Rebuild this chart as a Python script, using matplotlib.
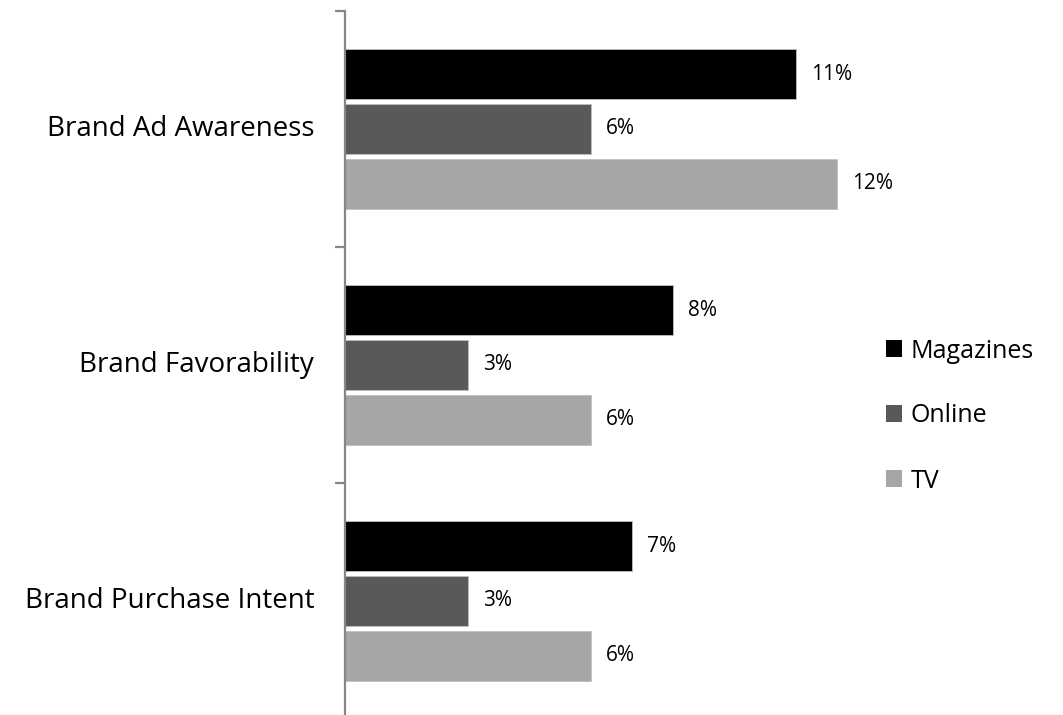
import matplotlib.pyplot as plt
import numpy as np

plt.rcParams['font.family'] = ['Open Sans', 'DejaVu Sans']

categories = ['Brand Ad Awareness', 'Brand Favorability', 'Brand Purchase Intent']
series = ['Magazines', 'Online', 'TV']
magazines = [11, 8, 7]
online = [6, 3, 3]
tv = [12, 6, 6]
colors = ['#000000', '#595959', '#a6a6a6']

W, H = 1063, 715
fig = plt.figure(figsize=(W / 100, H / 100), dpi=100)
# axes box in pixels: left 345, top 11, bottom 719 (runs just past the edge)
ax = fig.add_axes([345 / W, 1 - 719 / H, 525 / W, 708 / H])
ax.set_xlim(0, 12.8)
ax.set_ylim(2.5, -0.5)

y = np.arange(len(categories))
h = 0.212
step = 0.233
for i, (name, vals, c) in enumerate(zip(series, [magazines, online, tv], colors)):
    pos = y + (i - 1) * step
    ax.barh(pos, vals, height=h, color=c, edgecolor='#bfbfbf', linewidth=0.6, label=name)
    for p, v in zip(pos, vals):
        ax.annotate(f'{v}%', (v, p), xytext=(11, 0), textcoords='offset points',
                    va='center', ha='left', fontsize=15, color='#000000')

for s in ['top', 'right', 'bottom']:
    ax.spines[s].set_visible(False)
ax.spines['left'].set_color('#868686')
ax.spines['left'].set_linewidth(1.6)
ax.set_xticks([])
ax.set_yticks([-0.5, 0.5, 1.5, 2.5])
ax.set_yticklabels([])
ax.tick_params(axis='y', length=7, width=1.6, color='#868686', direction='out')
for yy, cat in zip(y, categories):
    ax.text(-0.75, yy, cat, ha='right', va='center', fontsize=20, color='#000000')

leg = fig.legend(loc='center left', bbox_to_anchor=(868 / W, 1 - 416 / H),
                 frameon=False, fontsize=18, handlelength=0.65, handleheight=0.65,
                 handletextpad=0.35, labelspacing=1.6, borderpad=0.2)
for p in leg.get_patches():
    p.set_edgecolor('none')

plt.savefig('out.png', dpi=100)
